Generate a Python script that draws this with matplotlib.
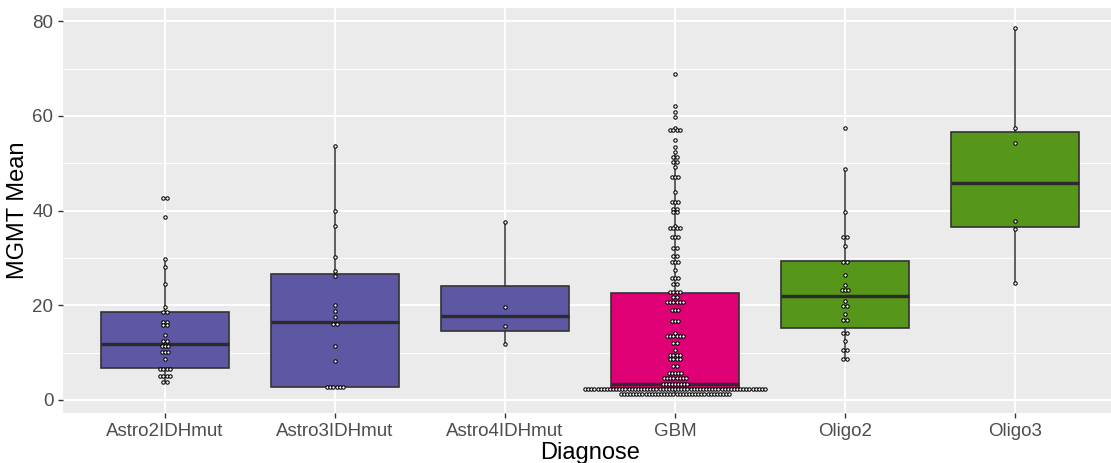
import matplotlib
matplotlib.use('Agg')
import matplotlib.pyplot as plt

plt.rcParams['font.family'] = ['Liberation Sans', 'DejaVu Sans']

diagnoses = ['Astro2IDHmut', 'Astro3IDHmut', 'Astro4IDHmut', 'GBM', 'Oligo2', 'Oligo3']
box_colors = ['#5E57A4', '#5E57A4', '#5E57A4', '#DE0074', '#56961A', '#56961A']

# box statistics
q1 = [6.8, 2.7, 14.6, 2.6, 15.1, 36.6]
med = [11.8, 16.5, 17.7, 3.3, 22.0, 45.9]
q3 = [18.6, 26.6, 24.1, 22.7, 29.3, 56.6]
whis_lo = [3.7, 2.7, 11.8, 1.3, 8.6, 24.7]
whis_hi = [29.8, 53.7, 37.5, 52.4, 48.7, 78.5]

# dot plot: value of each stack and number of dots in it
astro2_vals = [42.7, 38.7, 29.8, 28.0, 24.4, 19.6, 18.6, 16.5, 15.8, 13.8, 12.5, 11.3, 10.1, 8.7, 6.6, 5.1, 3.7]
astro2_n = [2, 1, 1, 1, 1, 1, 2, 2, 2, 1, 2, 3, 3, 1, 4, 4, 2]

astro3_vals = [53.7, 40.0, 36.7, 30.2, 27.3, 26.1, 20.0, 18.7, 17.5, 16.1, 11.5, 8.2, 2.7]
astro3_n = [1, 1, 1, 1, 1, 1, 1, 1, 1, 2, 1, 1, 6]

astro4_vals = [37.5, 19.7, 15.7, 11.8]
astro4_n = [1, 1, 1, 1]

gbm_vals = [68.9, 62.2, 60.8, 59.7, 57.5, 57.0, 54.9, 53.4, 52.4, 51.4, 50.3, 49.2, 47.2,
            43.9, 41.9, 40.4, 39.7, 36.8, 36.3, 34.5, 32.0, 30.5, 29.1, 27.5, 25.7, 24.4,
            22.9, 21.8, 20.7, 19.0, 16.6, 14.2, 13.6, 12.0, 10.6, 9.6, 8.6, 7.1, 5.8, 4.6,
            3.4, 2.3, 1.3]
gbm_n = [1, 1, 1, 1, 1, 4, 1, 1, 1, 2, 2, 1, 3,
         1, 3, 2, 2, 1, 4, 3, 2, 2, 3, 1, 3, 2,
         4, 2, 6, 3, 3, 1, 6, 2, 1, 4, 4, 2, 5, 8,
         9, 59, 36]

oligo2_vals = [57.5, 48.7, 39.7, 34.4, 32.5, 29.2, 26.5, 24.2, 23.2, 21.0, 19.8, 18.2, 17.0, 14.1, 12.5, 10.6, 8.6]
oligo2_n = [1, 1, 1, 2, 1, 2, 1, 1, 3, 1, 2, 1, 2, 2, 1, 2, 2]

oligo3_vals = [78.5, 57.5, 54.2, 37.8, 36.2, 24.7]
oligo3_n = [1, 1, 1, 1, 1, 1]

dot_vals = [astro2_vals, astro3_vals, astro4_vals, gbm_vals, oligo2_vals, oligo3_vals]
dot_n = [astro2_n, astro3_n, astro4_n, gbm_n, oligo2_n, oligo3_n]

fig = plt.figure(figsize=(11.11, 4.63), dpi=100)
ax = fig.add_axes([63 / 1111, 50 / 463, 1054 / 1111, 405 / 463])
ax.set_facecolor('#EBEBEB')
ax.set_xlim(0.4, 6.6)
ax.set_ylim(-2.75, 82.8)
for s in ax.spines.values():
    s.set_visible(False)

positions = list(range(1, len(diagnoses) + 1))
stats = []
for i in range(len(diagnoses)):
    stats.append(dict(med=med[i], q1=q1[i], q3=q3[i], whislo=whis_lo[i], whishi=whis_hi[i], fliers=[]))
bp = ax.bxp(stats, positions=positions, widths=0.75, patch_artist=True, showcaps=False,
            showfliers=False,
            boxprops=dict(edgecolor='#333333', linewidth=1.2),
            medianprops=dict(color='#2B2B2B', linewidth=2.4),
            whiskerprops=dict(color='#333333', linewidth=1.1))
for patch, c in zip(bp['boxes'], box_colors):
    patch.set_facecolor(c)

# stack dots side by side, centred on the category
bbox = ax.get_window_extent()
x_per_px = (6.6 - 0.4) / bbox.width
step = 3.1 * x_per_px
xs, ys = [], []
for pos, vals, ns in zip(positions, dot_vals, dot_n):
    for v, n in zip(vals, ns):
        for k in range(n):
            xs.append(pos + (k - (n - 1) / 2) * step)
            ys.append(v)
ax.scatter(xs, ys, s=6.0, facecolor='white', edgecolor='black', linewidth=0.75, zorder=5)

ax.set_xticks(positions, diagnoses)
ax.set_yticks([0, 20, 40, 60, 80])
ax.set_yticks([10, 30, 50, 70], minor=True)
ax.tick_params(which='major', length=3.5, width=1.0, color='#333333', labelcolor='#4D4D4D', labelsize=13.5)
ax.tick_params(which='minor', length=0)
ax.grid(which='major', color='white', linewidth=1.4)
ax.grid(which='minor', axis='y', color='white', linewidth=0.7)
ax.set_axisbelow(True)

ax.set_xlabel('Diagnose', fontsize=17, color='black', labelpad=2)
ax.set_ylabel('MGMT Mean', fontsize=17, color='black', labelpad=2)

fig.savefig('out.png', dpi=100)
